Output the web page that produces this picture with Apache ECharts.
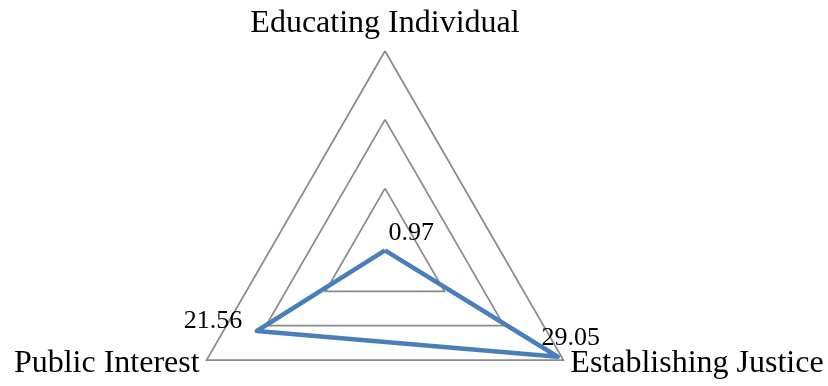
<!DOCTYPE html>
<html>
<head>
    <meta charset="UTF-8">
    <title>Radar</title>
    <script src="https://cdn.jsdelivr.net/npm/echarts@6/dist/echarts.min.js"></script>
    <style>
        html, body { margin: 0; padding: 0; background: #fff; }
        #chart { width: 828px; height: 386px; }
    </style>
</head>
<body>
    <div id="chart"></div>
    <script>
        // indicators (clockwise from top) and values
        var indicators = ['Educating Individual', 'Public Interest', 'Establishing Justice'];
        var values = [0.97, 21.56, 29.05];
        var maxValue = 30;

        // label placement per vertex
        var labelPos = [
            { position: 'right', offset: [-2, -17] },
            { position: 'left', offset: [-9, -10] },
            { position: 'top', offset: [13, 0] }
        ];

        var chart = echarts.init(document.getElementById('chart'));
        var font = '"Liberation Serif", "Times New Roman", serif';

        var series = [{
            type: 'radar',
            symbol: 'none',
            lineStyle: { color: '#4a7ebb', width: 4.5 },
            data: [{ value: values }],
            z: 2
        }];

        // one invisible series per label so each can sit where it needs to
        values.forEach(function (v, i) {
            series.push({
                type: 'radar',
                symbol: 'circle',
                symbolSize: 1,
                itemStyle: { color: 'rgba(0,0,0,0)' },
                lineStyle: { width: 0, opacity: 0 },
                label: {
                    show: true,
                    position: labelPos[i].position,
                    offset: labelPos[i].offset,
                    fontFamily: font,
                    fontSize: 26,
                    color: '#000',
                    formatter: function (p) {
                        return p.dimensionIndex === i ? String(values[i]) : '';
                    }
                },
                data: [{ value: values }],
                z: 3
            });
        });

        chart.setOption({
            animation: false,
            radar: {
                center: [385, 257],
                radius: 206,
                startAngle: 90,
                shape: 'polygon',
                splitNumber: 3,
                indicator: indicators.map(function (n) { return { name: n, max: maxValue, min: 0 }; }),
                nameGap: 8,
                axisName: {
                    color: '#000',
                    fontFamily: font,
                    fontSize: 32,
                    formatter: function (name) {
                        return name === indicators[0] ? '{top|' + name + '}' : name;
                    },
                    rich: {
                        top: { fontFamily: font, fontSize: 32, color: '#000', padding: [0, 0, 3, 0] }
                    }
                },
                axisLine: { show: false },
                splitArea: { show: false },
                splitLine: { lineStyle: { color: '#8a8a8a', width: 1.75 } }
            },
            series: series
        });
    </script>
</body>
</html>
